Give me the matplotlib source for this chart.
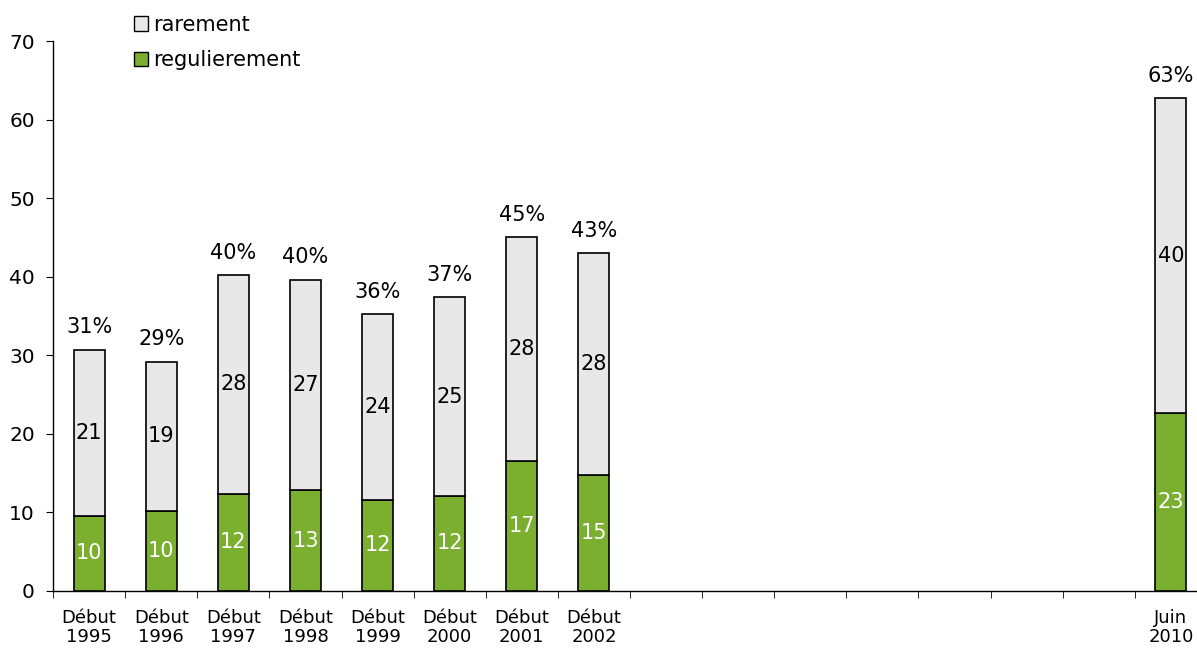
import matplotlib.pyplot as plt
from matplotlib.patches import Patch
import numpy as np

# survey periods (one slot per year, only some have data)
periods = ['Début\n1995', 'Début\n1996', 'Début\n1997', 'Début\n1998', 'Début\n1999',
           'Début\n2000', 'Début\n2001', 'Début\n2002', '', '', '', '', '', '', '', 'Juin\n2010']
slots = [0, 1, 2, 3, 4, 5, 6, 7, 15]
regulierement = [9.6, 10.2, 12.4, 12.8, 11.6, 12.1, 16.6, 14.7, 22.6]
rarement = [21.1, 19.0, 27.8, 26.8, 23.6, 25.3, 28.4, 28.3, 40.1]
total_pct = [31, 29, 40, 40, 36, 37, 45, 43, 63]

green = '#7AAF2F'
grey = '#E8E8E8'

fig = plt.figure(figsize=(11.97, 6.48), dpi=100)
ax = fig.add_axes([0.0443, 0.088, 0.964, 0.8487])

reg = np.array(regulierement)
rar = np.array(rarement)
w = 0.43
ax.bar(slots, reg, width=w, color=green, edgecolor='black', linewidth=1.2, zorder=3)
ax.bar(slots, rar, width=w, bottom=reg, color=grey, edgecolor='black', linewidth=1.2, zorder=3)

for x, r, g, p in zip(slots, reg, rar, total_pct):
    ax.text(x, r / 2, f'{r:.0f}', ha='center', va='center', color='white', fontsize=15)
    ax.text(x, r + g / 2, f'{g:.0f}', ha='center', va='center', color='black', fontsize=15)
    ax.annotate(f'{p}%', (x, r + g), xytext=(0, 9), textcoords='offset points',
                ha='center', va='bottom', fontsize=15)

ax.set_xlim(-0.5, len(periods) - 0.5)
ax.set_ylim(0, 70)
ax.set_yticks(range(0, 71, 10))
ax.tick_params(axis='y', labelsize=14.5, length=5, direction='out', pad=8)

ax.set_xticks(range(len(periods)))
ax.set_xticklabels(periods, fontsize=13, linespacing=1.05)
ax.tick_params(axis='x', which='major', length=0, pad=13)
ax.set_xticks(np.arange(-0.5, len(periods) - 0.5, 1), minor=True)
ax.tick_params(axis='x', which='minor', length=5, direction='out')

for s in ['top', 'right']:
    ax.spines[s].set_visible(False)
ax.spines['left'].set_linewidth(1.0)
ax.spines['bottom'].set_linewidth(1.0)

handles = [Patch(facecolor=grey, edgecolor='black', label='rarement'),
           Patch(facecolor=green, edgecolor='black', label='regulierement')]
fig.legend(handles=handles, loc='upper left', bbox_to_anchor=(0.096, 1.006), frameon=False,
           fontsize=15, handlelength=0.7, handleheight=0.7, handletextpad=0.25,
           labelspacing=0.75)

fig.savefig('out.png', dpi=100)
